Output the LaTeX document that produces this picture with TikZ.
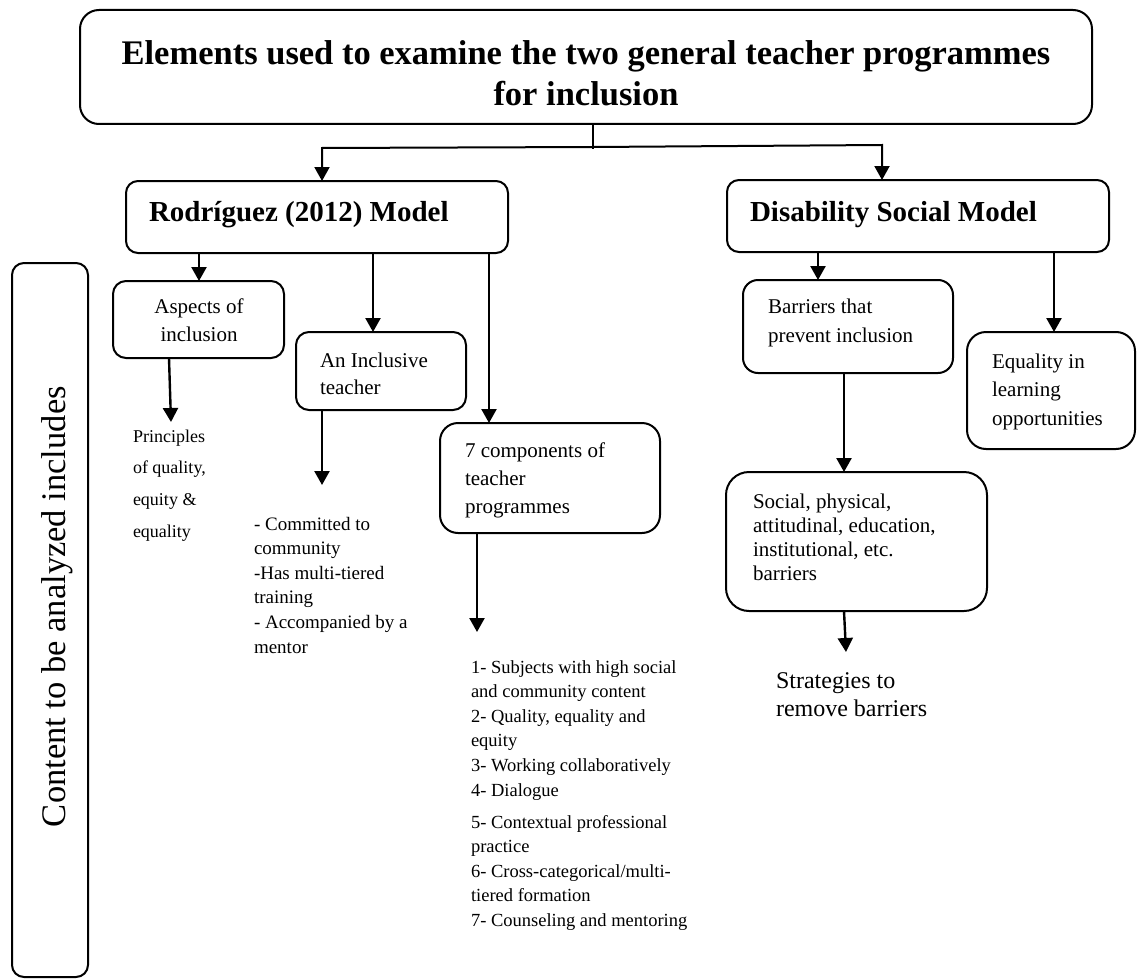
\documentclass[tikz,border=0pt]{standalone}
\usepackage{fontspec}
\setmainfont{Liberation Serif}
\usetikzlibrary{arrows.meta}
% font size / line spacing shorthand
\newcommand\fsz[2]{\fontsize{#1}{#2}\selectfont}
% stacked lines, baseline on the first line
\newcommand\stack[2][l]{\begin{tabular}[t]{@{}#1@{}}#2\end{tabular}}

\begin{document}
\begin{tikzpicture}[x=1pt,y=-1pt,
  panel/.style={draw, line width=2pt, inner sep=0pt, outer sep=0pt, anchor=north west},
  txt/.style={inner sep=0pt, outer sep=0pt, anchor=base west},
  arr/.style={line width=2.4pt, -{Triangle[width=15pt,length=14pt]}},
  link/.style={line width=1.6pt}]

\fill[white] (0,0) rectangle (1137,979);
\useasboundingbox (0,0) rectangle (1137,979);

% ---- boxes ----
\node[panel, rounded corners=19pt, minimum width=1012pt, minimum height=114pt] (title) at (80,10) {};
\node[panel, rounded corners=12pt, minimum width=382pt, minimum height=72pt] (rod) at (126,181) {};
\node[panel, rounded corners=12pt, minimum width=382pt, minimum height=72pt] (dis) at (727,180) {};
\node[panel, rounded corners=12pt, minimum width=76pt, minimum height=714pt] (content) at (12,263) {};
\node[panel, rounded corners=13pt, minimum width=171pt, minimum height=77pt] (asp) at (113,281) {};
\node[panel, rounded corners=13pt, minimum width=170pt, minimum height=78pt] (inc) at (296,332) {};
\node[panel, rounded corners=18pt, minimum width=220pt, minimum height=110pt] (comp) at (440,423) {};
\node[panel, rounded corners=15pt, minimum width=210pt, minimum height=93pt] (bar) at (743,280) {};
\node[panel, rounded corners=19pt, minimum width=168pt, minimum height=117pt] (equ) at (967,332) {};
\node[panel, rounded corners=23pt, minimum width=261pt, minimum height=139pt] (soc) at (726,472) {};

% ---- texts ----
\node[txt, anchor=base, font=\bfseries\fsz{34.5}{41}] (titletxt) at (586,65)
  {\stack[c]{Elements used to examine the two general teacher programmes\\for inclusion}};
\node[txt, font=\bfseries\fsz{29}{34}] (rodtxt) at (149,221) {Rodríguez (2012) Model};
\node[txt, font=\bfseries\fsz{29}{34}] (distxt) at (750,221) {Disability Social Model};

\node[txt, rotate=90, font=\fsz{34.5}{40}] (contxt) at (65,827) {Content to be analyzed includes};

\node[txt, anchor=base, font=\fsz{21}{28}] (asptxt) at (199,313) {\stack[c]{Aspects of\\inclusion}};
\node[txt, font=\fsz{21}{27}] (inctxt) at (320,367) {\stack{An Inclusive\\teacher}};
\node[txt, font=\fsz{21}{28}] (comptxt) at (465,457) {\stack{7 components of\\teacher\\programmes}};

\node[txt, font=\fsz{18}{31.7}] (princ) at (133,442)
  {\stack{Principles\\of quality,\\equity \&\\equality}};
\node[txt, font=\fsz{19}{24.6}] (commit) at (254,530)
  {\stack{- Committed to\\community\\-Has multi-tiered\\training\\- Accompanied by a\\mentor}};
\node[txt, font=\fsz{18.5}{24.6}] (list) at (471,673)
  {\stack{1- Subjects with high social\\and community content\\2- Quality, equality and\\equity\\3- Working collaboratively\\4- Dialogue\\[7.5pt]5- Contextual professional\\practice\\6- Cross-categorical/multi-\\tiered formation\\7- Counseling and mentoring}};

\node[txt, font=\fsz{21}{29}] (bartxt) at (768,313) {\stack{Barriers that\\prevent inclusion}};
\node[txt, font=\fsz{21}{28.5}] (equtxt) at (992,368) {\stack{Equality in\\learning\\opportunities}};
\node[txt, font=\fsz{21}{24}] (soctxt) at (753,508)
  {\stack{Social, physical,\\attitudinal, education,\\institutional, etc.\\barriers}};
\node[txt, font=\fsz{24}{28}] (strat) at (776,688) {\stack{Strategies to\\remove barriers}};

% ---- connectors ----
\coordinate (hub) at (593,147);
\draw[link] (title.south -| hub) -- (593,149);
\draw[arr, line width=2pt] (hub) -- (322,148) -- (rod.north -| 322,0);
\draw[arr, line width=2pt] (hub) -- (882,145) -- (dis.north -| 882,0);

\draw[arr] (rod.south -| 199,0) -- (asp.north -| 199,0);
\draw[arr] (rod.south -| 373,0) -- (inc.north -| 373,0);
\draw[arr] (rod.south -| 489,0) -- (comp.north -| 489,0);

\coordinate (princtop) at (171,422);
\draw[arr] (asp.south -| 169,0) -- (princtop);
\coordinate (committop) at (322,485);
\draw[arr] (inc.south -| 322,0) -- (committop);
\coordinate (listtop) at (477,632);
\draw[arr] (comp.south -| 477,0) -- (listtop);

\draw[arr] (dis.south -| 818,0) -- (bar.north -| 818,0);
\draw[arr] (dis.south -| 1054,0) -- (equ.north -| 1054,0);
\draw[arr] (bar.south -| 844,0) -- (soc.north -| 844,0);
\coordinate (strattop) at (846,652);
\draw[arr] (soc.south -| 844,0) -- (strattop);

\end{tikzpicture}
\end{document}
